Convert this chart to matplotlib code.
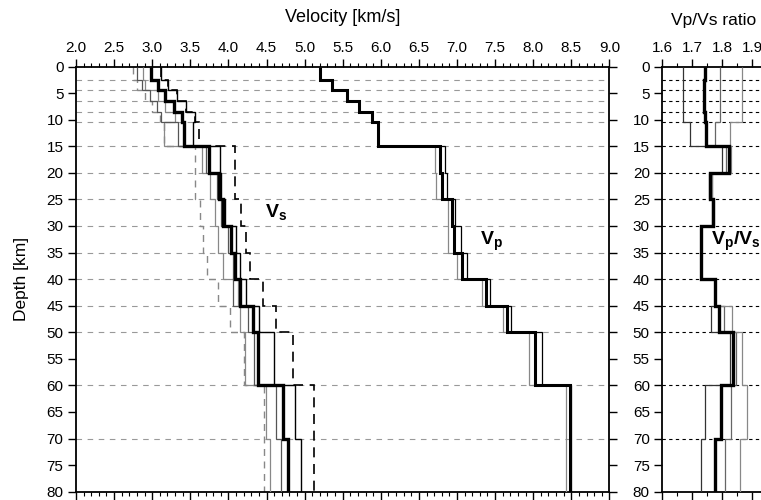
import matplotlib
matplotlib.use("Agg")
import matplotlib.pyplot as plt
import numpy as np
from matplotlib.ticker import MultipleLocator, FixedLocator

plt.rcParams['font.family'] = ['Liberation Sans', 'DejaVu Sans']
plt.rcParams['mathtext.fontset'] = 'custom'
plt.rcParams['mathtext.rm'] = 'Liberation Sans'
plt.rcParams['mathtext.bf'] = 'Liberation Sans:bold'
plt.rcParams['mathtext.it'] = 'Liberation Sans:italic'

# Layer boundaries (km)
edges = [0, 2.5, 4.5, 6.5, 8.5, 10.5, 15, 20, 25, 30, 35, 40, 45, 50, 60, 70, 80]
grid_depths = [2.5, 4.5, 6.5, 8.5, 10.5, 15, 20, 25, 30, 35, 40, 45, 50, 60, 70]

# Vs models (km/s)
vs_main = [2.98, 3.08, 3.17, 3.28, 3.39, 3.42, 3.74, 3.88, 3.93, 4.03, 4.09, 4.15, 4.32, 4.39, 4.72, 4.78]
vs_hi = [3.12, 3.21, 3.32, 3.45, 3.56, 3.54, 3.89, 3.90, 3.96, 4.10, 4.15, 4.23, 4.40, 4.60, 4.88, 4.95]
vs_mid = [2.80, 2.86, 2.97, 3.06, 3.12, 3.34, 3.70, 3.85, 3.90, 4.00, 4.06, 4.06, 4.26, 4.33, 4.63, 4.69]
vs_lo = [2.88, 2.90, 3.08, 3.17, 3.30, 3.15, 3.66, 3.76, 3.82, 3.87, 3.93, 4.12, 4.15, 4.22, 4.49, 4.55]
vs_dash_hi = [3.12, 3.21, 3.32, 3.45, 3.56, 3.61, 4.09, 4.09, 4.17, 4.23, 4.29, 4.45, 4.63, 4.85, 5.12, 5.12]
vs_dash_lo = [2.75, 2.80, 2.90, 3.00, 3.10, 3.15, 3.56, 3.56, 3.63, 3.67, 3.72, 3.87, 4.02, 4.20, 4.47, 4.47]

# Vp models (km/s)
vp_main = [5.20, 5.36, 5.55, 5.71, 5.88, 5.96, 6.78, 6.80, 6.93, 6.96, 7.07, 7.38, 7.65, 8.02, 8.48, 8.48]
vp_lo = [5.20, 5.36, 5.55, 5.71, 5.88, 5.96, 6.71, 6.72, 6.88, 6.88, 7.00, 7.33, 7.60, 7.95, 8.43, 8.43]
vp_hi = [5.20, 5.36, 5.55, 5.71, 5.88, 5.96, 6.84, 6.87, 6.98, 7.05, 7.13, 7.43, 7.71, 8.12, 8.50, 8.50]

# Vp/Vs ratio models
vr_main = [1.741, 1.740, 1.740, 1.740, 1.741, 1.745, 1.821, 1.760, 1.769, 1.729, 1.730, 1.774, 1.788, 1.836, 1.797, 1.774]
vr_lo = [1.668, 1.668, 1.668, 1.668, 1.668, 1.693, 1.800, 1.755, 1.766, 1.729, 1.730, 1.774, 1.763, 1.824, 1.741, 1.728]
vr_mid = [1.793, 1.793, 1.793, 1.793, 1.793, 1.777, 1.812, 1.765, 1.770, 1.729, 1.730, 1.774, 1.805, 1.845, 1.830, 1.808]
vr_hi = [1.866, 1.866, 1.866, 1.866, 1.866, 1.827, 1.829, 1.765, 1.772, 1.729, 1.730, 1.774, 1.832, 1.866, 1.882, 1.860]

vel_ticks = [2.0, 2.5, 3.0, 3.5, 4.0, 4.5, 5.0, 5.5, 6.0, 6.5, 7.0, 7.5, 8.0, 8.5, 9.0]
ratio_ticks = [1.6, 1.7, 1.8, 1.9]
depth_ticks = list(range(0, 81, 5))

W, H = 761, 500
fig = plt.figure(figsize=(W / 100, H / 100), dpi=100)

def px_axes(x0, y0, x1, y1):
    return fig.add_axes([x0 / W, 1 - y1 / H, (x1 - x0) / W, (y1 - y0) / H])

ax = px_axes(76, 66.5, 609.4, 491.7)
ax2 = px_axes(662.3, 66.5, 782.3, 491.7)

tick_fs = 11

def style_axis(a):
    for s in a.spines.values():
        s.set_linewidth(1.3)
        s.set_color('black')
    a.set_ylim(80, 0)
    a.yaxis.set_major_locator(FixedLocator(depth_ticks))
    a.tick_params(axis='y', which='major', direction='out', length=6, width=1.0,
                  left=True, right=True, labelleft=True, labelright=False, labelsize=tick_fs, pad=3)
    a.tick_params(axis='x', which='both', direction='out', top=True, bottom=True,
                  labeltop=True, labelbottom=False, labelsize=tick_fs, pad=2)
    a.tick_params(axis='x', which='major', length=6, width=1.0)
    a.tick_params(axis='x', which='minor', length=3, width=0.8)

style_axis(ax)
style_axis(ax2)

# Left panel
ax.set_xlim(2.0, 9.0)
ax.xaxis.set_major_locator(FixedLocator(vel_ticks))
ax.xaxis.set_minor_locator(MultipleLocator(0.1))
ax.xaxis.set_major_formatter(matplotlib.ticker.FormatStrFormatter('%.1f'))
for d in grid_depths:
    ax.axhline(d, color='#999999', lw=0.8, ls=(0, (5, 5)), zorder=1)

def stair(a, vals, **kw):
    a.stairs(vals, edges, orientation='horizontal', baseline=None, **kw)

stair(ax, vs_dash_lo, color='#888888', lw=1.0, ls=(0, (5, 4)), zorder=2)
stair(ax, vs_dash_hi, color='black', lw=1.2, ls=(0, (6, 4)), zorder=2)
stair(ax, vs_lo, color='#888888', lw=0.9, zorder=3)
stair(ax, vs_mid, color='#555555', lw=0.9, zorder=3)
stair(ax, vs_hi, color='black', lw=1.0, zorder=3)
stair(ax, vs_main, color='black', lw=2.4, zorder=4)

stair(ax, vp_lo, color='#888888', lw=0.9, zorder=3)
stair(ax, vp_hi, color='black', lw=0.9, zorder=3)
stair(ax, vp_main, color='black', lw=2.2, zorder=4)

ax.text(4.62, 27.3, r'$\mathbf{V_s}$', fontsize=14, ha='center', va='center')
ax.text(7.45, 33.0, r'$\mathbf{V_p}$', fontsize=14, ha='center', va='center')

# Right panel
ax2.set_xlim(1.6, 2.0)
ax2.xaxis.set_major_locator(FixedLocator(ratio_ticks))
ax2.xaxis.set_minor_locator(MultipleLocator(0.05))
ax2.xaxis.set_major_formatter(matplotlib.ticker.FormatStrFormatter('%.1f'))
for d in grid_depths:
    ax2.axhline(d, color='black', lw=0.8, ls=(0, (3, 3)), zorder=1)
stair(ax2, vr_lo, color='#333333', lw=0.9, zorder=3)
stair(ax2, vr_mid, color='#666666', lw=0.9, zorder=3)
stair(ax2, vr_hi, color='#888888', lw=0.9, zorder=3)
stair(ax2, vr_main, color='black', lw=2.4, zorder=4)
ax2.text(1.845, 33.0, r'$\mathbf{V_p/V_s}$', fontsize=14, ha='center', va='center')

fig.text(343 / W, 1 - 18 / H, 'Velocity [km/s]', fontsize=13, ha='center', va='center')
fig.text(714 / W, 1 - 20 / H, 'Vp/Vs ratio', fontsize=12.5, ha='center', va='center')
fig.text(22 / W, 1 - 279 / H, 'Depth [km]', fontsize=12.5, ha='center', va='center', rotation=90)

fig.savefig('out.png', dpi=100)
